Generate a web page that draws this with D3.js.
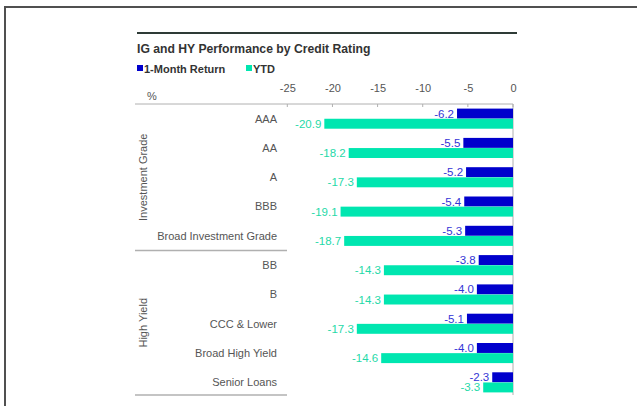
<!DOCTYPE html>
<html>
<head>
<meta charset="utf-8">
<script src="https://cdn.jsdelivr.net/npm/d3@7"></script>
<style>
  body { margin: 0; background: #fff; }
  svg { display: block; font-family: "Liberation Sans", Arial, sans-serif; }
</style>
</head>
<body>
<div id="chart"></div>
<script>
// Chart data
const categories = ["AAA", "AA", "A", "BBB", "Broad Investment Grade",
                    "BB", "B", "CCC & Lower", "Broad High Yield", "Senior Loans"];
const groups = [
  { name: "Investment Grade", first: "AAA", last: "Broad Investment Grade" },
  { name: "High Yield", first: "BB", last: "Senior Loans" }
];
const seriesNames = ["1-Month Return", "YTD"];
const oneMonth = [-6.2, -5.5, -5.2, -5.4, -5.3, -3.8, -4.0, -5.1, -4.0, -2.3];
const ytd = [-20.9, -18.2, -17.3, -19.1, -18.7, -14.3, -14.3, -17.3, -14.6, -3.3];
const xTicks = [-25, -20, -15, -10, -5, 0];

const colors = { "1-Month Return": "#0000cc", "YTD": "#00e6b0" };
const labelColors = { "1-Month Return": "#3434d6", "YTD": "#1fd9a8" };

// plain hyphen for negatives, like the original
const locale = d3.formatLocale({ decimal: ".", thousands: ",", grouping: [3], currency: ["$", ""], minus: "-" });
const fmtVal = locale.format(".1f");
const fmtTick = locale.format("d");

const w = 637, h = 406;

const svg = d3.select("#chart")
  .append("svg")
  .attr("width", w)
  .attr("height", h);

// outer frame (top and left edges)
svg.append("path")
  .attr("d", "M5,406 V7 H637")
  .attr("fill", "none")
  .attr("stroke", "#505050")
  .attr("stroke-width", 2);

// dark rule above the title
svg.append("line")
  .attr("x1", 137).attr("x2", 517)
  .attr("y1", 33).attr("y2", 33)
  .attr("stroke", "#2e3b36")
  .attr("stroke-width", 2.2);

svg.append("text")
  .attr("x", 137).attr("y", 53)
  .attr("font-size", 12.2)
  .attr("font-weight", "bold")
  .attr("fill", "#333")
  .text("IG and HY Performance by Credit Rating");

// legend
const legendX = [137, 246];
seriesNames.forEach((s, i) => {
  const g = svg.append("g").attr("transform", `translate(${legendX[i]},65)`);
  g.append("rect").attr("width", 6).attr("height", 6).attr("y", 0).attr("fill", colors[s]);
  g.append("text")
    .attr("x", 7).attr("y", 7.5)
    .attr("font-size", 11)
    .attr("font-weight", "bold")
    .attr("fill", "#333")
    .text(s);
});

// scales
const x = d3.scaleLinear().domain([-25, 0]).range([287.3, 513]);
const plotTop = 104, plotBottom = 397;

const y = d3.scaleBand()
  .domain(categories)
  .range([plotTop, plotBottom])
  .paddingInner(0.3)
  .paddingOuter(0.15);

const ySub = d3.scaleBand()
  .domain(seriesNames)
  .range([0, y.bandwidth()])
  .padding(0.02);

// "%" unit label
svg.append("text")
  .attr("x", 147).attr("y", 100)
  .attr("font-size", 11)
  .attr("fill", "#555")
  .text("%");

// top axis
const xAxis = d3.axisTop(x).tickValues(xTicks).tickFormat(fmtTick).tickSize(0).tickPadding(8);
const axisG = svg.append("g")
  .attr("transform", `translate(0,${plotTop})`)
  .call(xAxis)
  .attr("font-family", null);
axisG.select(".domain").remove();
axisG.selectAll("text")
  .attr("font-size", 11)
  .attr("fill", "#555")
  .attr("dy", "-0.4em");

svg.append("line")
  .attr("x1", 135).attr("x2", x(0))
  .attr("y1", plotTop).attr("y2", plotTop)
  .attr("stroke", "#b0b0b0").attr("stroke-width", 1);

svg.selectAll(".tickmark")
  .data(xTicks)
  .enter()
  .append("line")
  .attr("class", "tickmark")
  .attr("x1", d => x(d)).attr("x2", d => x(d))
  .attr("y1", plotTop).attr("y2", plotTop + 3)
  .attr("stroke", "#b0b0b0");

// zero line
svg.append("line")
  .attr("x1", x(0)).attr("x2", x(0))
  .attr("y1", plotTop).attr("y2", 395)
  .attr("stroke", "#b0b0b0").attr("stroke-width", 1);

// group separators and group labels
const step = y.step();
groups.forEach((gr, i) => {
  const y0 = y(gr.first) - y.paddingOuter() * step;
  const y1 = y(gr.last) + y.bandwidth() + y.paddingInner() * step / 2 + (i === groups.length - 1 ? -2 : 0);
  svg.append("line")
    .attr("x1", 135).attr("x2", 287)
    .attr("y1", y1).attr("y2", y1)
    .attr("stroke", "#b0b0b0").attr("stroke-width", 1.5);
  const cy = (Math.max(y0, plotTop) + y1) / 2;
  svg.append("text")
    .attr("transform", `translate(147,${cy}) rotate(-90)`)
    .attr("text-anchor", "middle")
    .attr("font-size", 11)
    .attr("fill", "#555")
    .text(gr.name);
});

// category labels
svg.selectAll(".cat")
  .data(categories)
  .enter()
  .append("text")
  .attr("class", "cat")
  .attr("x", 277)
  .attr("y", d => y(d) + y.bandwidth() / 2)
  .attr("dy", "0.35em")
  .attr("text-anchor", "end")
  .attr("font-size", 11)
  .attr("fill", "#555")
  .text(d => d);

// bars
const rows = categories.map((c, i) => ({
  cat: c,
  values: [
    { s: "1-Month Return", v: oneMonth[i] },
    { s: "YTD", v: ytd[i] }
  ]
}));

const rowG = svg.selectAll(".row")
  .data(rows)
  .enter()
  .append("g")
  .attr("class", "row")
  .attr("transform", d => `translate(0,${y(d.cat)})`);

rowG.selectAll("rect")
  .data(d => d.values)
  .enter()
  .append("rect")
  .attr("x", d => x(d.v))
  .attr("y", d => ySub(d.s))
  .attr("width", d => x(0) - x(d.v))
  .attr("height", ySub.bandwidth())
  .attr("fill", d => colors[d.s]);

rowG.selectAll(".val")
  .data(d => d.values)
  .enter()
  .append("text")
  .attr("class", "val")
  .attr("x", d => x(d.v) - 3)
  .attr("y", d => ySub(d.s) + ySub.bandwidth() / 2)
  .attr("dy", "0.35em")
  .attr("text-anchor", "end")
  .attr("font-size", 11.5)
  .attr("fill", d => labelColors[d.s])
  .text(d => fmtVal(d.v));
</script>
</body>
</html>
